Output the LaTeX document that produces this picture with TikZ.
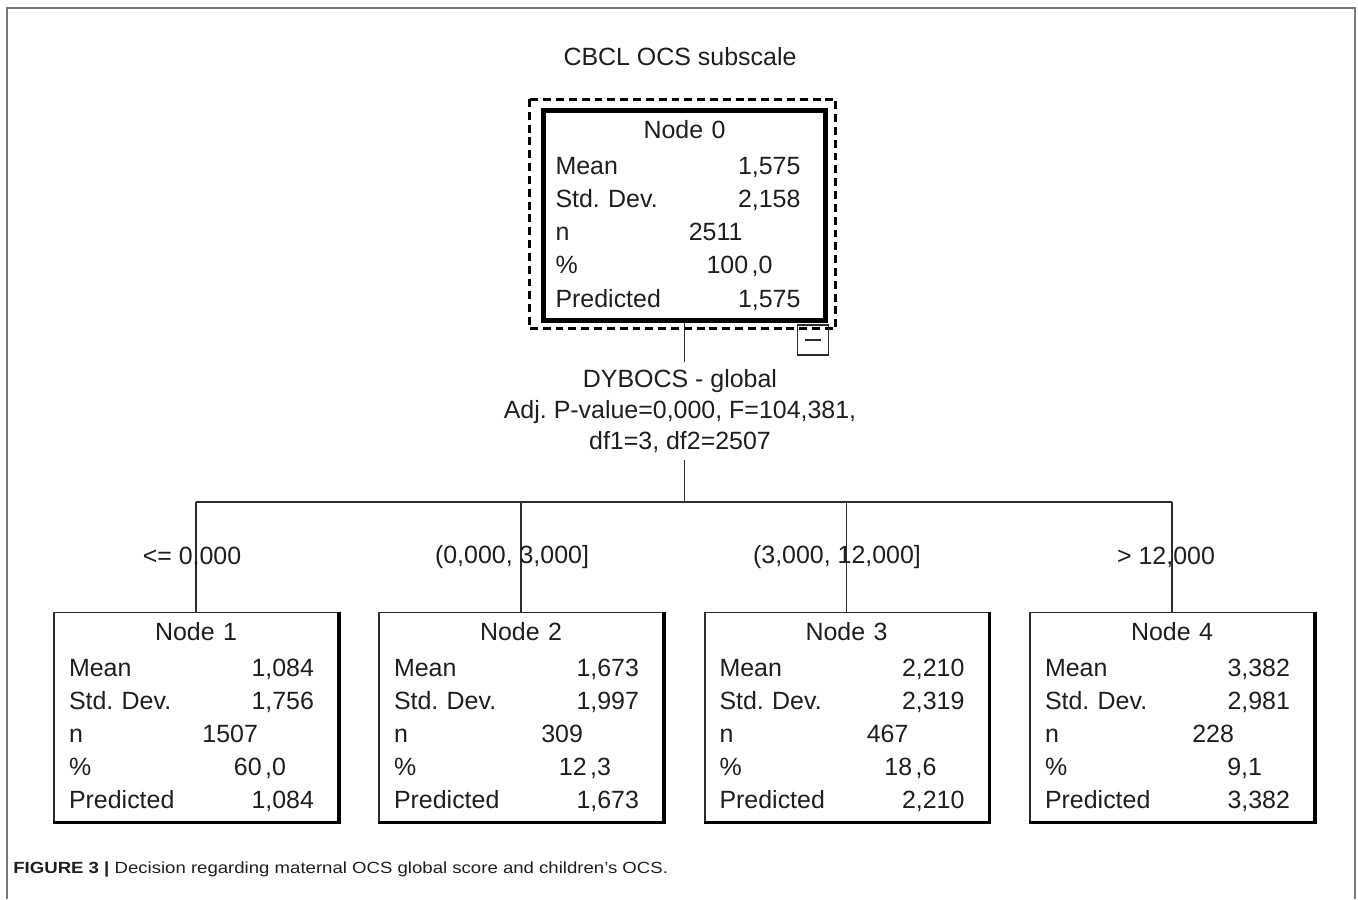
\documentclass[tikz,border=0pt]{standalone}
\usepackage{fontspec}
\setmainfont{Liberation Sans}
\newfontfamily\capfont{Liberation Sans}[FakeStretch=1.15]
\usepackage{tikz}
\usetikzlibrary{positioning, calc}
\definecolor{framegray}{RGB}{120,120,120}
\definecolor{linegray}{RGB}{45,45,45}
\definecolor{inkgray}{RGB}{30,30,30}
\frenchspacing

\begin{document}
\begin{tikzpicture}[
  x=0.02cm, y=-0.02cm,
  txt/.style={font=\fontsize{14.2}{17.6}\selectfont, text=inkgray,
              align=center, inner sep=0pt},
  split/.style={txt, inner sep=0.14cm},
  root/.style={rectangle, draw=black, line width=2.85pt,
               minimum width=5.64cm, minimum height=4.2cm,
               text width=5.16cm, inner xsep=0.24cm, inner ysep=0pt,
               align=left, text=inkgray,
               font=\fontsize{14.2}{18.8}\selectfont},
  leaf/.style={rectangle, draw=linegray, line width=1.1pt,
               minimum width=5.68cm, minimum height=4.18cm,
               text width=5.08cm, inner xsep=0.3cm, inner ysep=0pt,
               align=left, text=inkgray,
               font=\fontsize{14.2}{18.8}\selectfont},
  toggle/.style={rectangle, draw=linegray, line width=0.8pt,
                 minimum width=0.62cm, minimum height=0.6cm, inner sep=0pt},
  dashbox/.style={draw=black, line width=1.7pt, dash pattern=on 4.5pt off 2.8pt},
  shadowline/.style={draw=black, line width=2.2pt},
  edge/.style={draw=linegray, line width=1.1pt},
  caption/.style={font=\capfont\fontsize{9.2}{11}\selectfont, text=inkgray,
                  inner sep=0pt, anchor=west}
]
\useasboundingbox (0,0) rectangle (1358,899);

% Frame
\draw[framegray, line width=0.85pt] (7,899) -- (7,8) -- (1355,8) -- (1355,899);

% Title
\node[txt] (title) at (680,57) {CBCL OCS subscale};

% Root node
\node[root] (root) at (684.5,215.5) {%
  \hfill Node 0\hfill\mbox{}\\[1.7pt]
  Mean\hfill 1,575\hspace*{0.26cm}\mbox{}\\
  Std. Dev.\hfill 2,158\hspace*{0.26cm}\mbox{}\\
  n\hfill 2511\hspace*{1.42cm}\mbox{}\\
  \%\hfill 100\kern2pt,0\hspace*{0.82cm}\mbox{}\\
  Predicted\hfill 1,575\hspace*{0.26cm}\mbox{}};
\draw[dashbox] ($(root.north west)+(-12,-9)$) rectangle ($(root.south east)+(8,6)$);
\node[toggle, anchor=north east] (toggle) at ($(root.south east)+(1.5,1.5)$) {};
\draw[linegray, line width=0.8pt] ($(toggle.center)+(-8,0)$) -- ($(toggle.center)+(8,0)$);

% Split
\node[split] (split) at (680,411) {DYBOCS - global\\Adj. P-value=0,000, F=104,381,\\df1=3, df2=2507};

% Leaf nodes
\node[leaf] (n1) at (196,717) {%
  \hfill Node 1\hfill\mbox{}\\[1.7pt]
  Mean\hfill 1,084\hspace*{0.18cm}\mbox{}\\
  Std. Dev.\hfill 1,756\hspace*{0.18cm}\mbox{}\\
  n\hfill 1507\hspace*{1.3cm}\mbox{}\\
  \%\hfill 60\kern2pt,0\hspace*{0.74cm}\mbox{}\\
  Predicted\hfill 1,084\hspace*{0.18cm}\mbox{}};
\node[leaf] (n2) at (521,717) {%
  \hfill Node 2\hfill\mbox{}\\[1.7pt]
  Mean\hfill 1,673\hspace*{0.18cm}\mbox{}\\
  Std. Dev.\hfill 1,997\hspace*{0.18cm}\mbox{}\\
  n\hfill 309\hspace*{1.3cm}\mbox{}\\
  \%\hfill 12\kern2pt,3\hspace*{0.74cm}\mbox{}\\
  Predicted\hfill 1,673\hspace*{0.18cm}\mbox{}};
\node[leaf] (n3) at (846.5,717) {%
  \hfill Node 3\hfill\mbox{}\\[1.7pt]
  Mean\hfill 2,210\hspace*{0.18cm}\mbox{}\\
  Std. Dev.\hfill 2,319\hspace*{0.18cm}\mbox{}\\
  n\hfill 467\hspace*{1.3cm}\mbox{}\\
  \%\hfill 18\kern2pt,6\hspace*{0.74cm}\mbox{}\\
  Predicted\hfill 2,210\hspace*{0.18cm}\mbox{}};
\node[leaf] (n4) at (1172,717) {%
  \hfill Node 4\hfill\mbox{}\\[1.7pt]
  Mean\hfill 3,382\hspace*{0.18cm}\mbox{}\\
  Std. Dev.\hfill 2,981\hspace*{0.18cm}\mbox{}\\
  n\hfill 228\hspace*{1.3cm}\mbox{}\\
  \%\hfill 9,1\hspace*{0.74cm}\mbox{}\\
  Predicted\hfill 3,382\hspace*{0.18cm}\mbox{}};
\foreach \k in {1,...,4}
  \draw[shadowline] (n\k.north east) -- (n\k.south east) -- (n\k.south west);

% Connectors
\coordinate (hub) at (684.5,502);
\draw[edge] (root.south) -- (root.south |- split.north);
\draw[edge] (root.south |- split.south) -- (hub);
\draw[edge] (n1.north |- hub) -- (n4.north |- hub);
\foreach \k in {1,...,4}
  \draw[edge] (n\k.north |- hub) -- (n\k.north);

% Branch labels
\node[txt] (lbl1) at (192,557)  {<= 0,000};
\node[txt] (lbl2) at (512,557)  {(0,000, 3,000]};
\node[txt] (lbl3) at (837,557)  {(3,000, 12,000]};
\node[txt] (lbl4) at (1166,557) {> 12,000};

% Caption
\node[caption] (cap) at (13,869) {\textbf{FIGURE 3 |} Decision regarding maternal OCS global score and children’s OCS.};

\end{tikzpicture}
\end{document}
